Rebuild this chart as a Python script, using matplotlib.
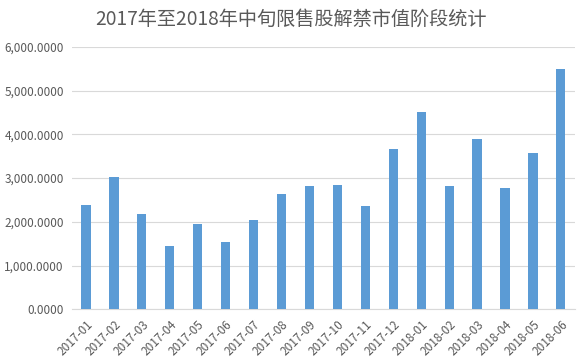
import matplotlib
matplotlib.use("Agg")
import matplotlib.pyplot as plt
from matplotlib.ticker import FuncFormatter

plt.rcParams['font.family'] = ['Noto Sans CJK SC', 'DejaVu Sans']

categories = ["2017-01", "2017-02", "2017-03", "2017-04", "2017-05", "2017-06",
              "2017-07", "2017-08", "2017-09", "2017-10", "2017-11", "2017-12",
              "2018-01", "2018-02", "2018-03", "2018-04", "2018-05", "2018-06"]
values = [2390, 3024, 2186, 1447, 1957, 1538, 2041, 2635, 2818, 2840, 2361, 3662,
          4508, 2818, 3891, 2772, 3571, 5490]
title = "2017年至2018年中旬限售股解禁市值阶段统计"

fig = plt.figure(figsize=(5.82, 3.63), dpi=100)
ax = fig.add_axes([0.1237, 0.148, 0.864, 0.723])
x = range(len(categories))
ax.bar(x, values, width=0.33, color="#5B9BD5", zorder=3)
ax.set_xlim(-0.5, len(categories) - 0.5)
ax.set_ylim(0, 6000)
ax.set_yticks(range(0, 6001, 1000))
ax.yaxis.set_major_formatter(FuncFormatter(lambda v, p: f"{v:,.4f}"))
ax.set_xticks(list(x))
ax.set_xticklabels(categories, rotation=45, ha="right", rotation_mode="anchor")
ax.grid(axis="y", color="#D9D9D9", linewidth=0.8, zorder=0)
for s in ["top", "right", "left"]:
    ax.spines[s].set_visible(False)
ax.spines["bottom"].set_color("#D9D9D9")
ax.tick_params(axis="both", length=0, labelsize=8.5, colors="#595959")
ax.tick_params(axis="x", pad=6)
ax.tick_params(axis="y", pad=6)
fig.text(0.5, 0.948, title, ha="center", va="center", fontsize=13.8, color="#595959")
fig.savefig("out.png", dpi=100)
